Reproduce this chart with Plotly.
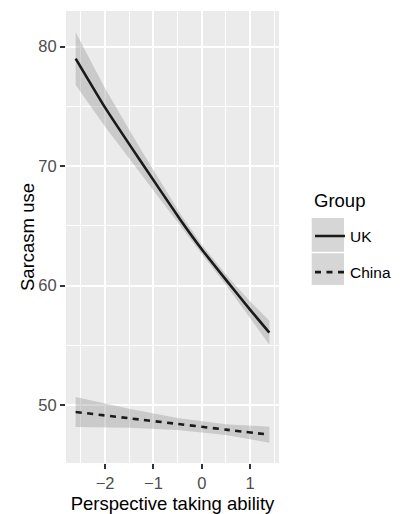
import plotly.graph_objects as go

# ---- data ----
uk_x = [-2.61, -2.0, -1.27, -0.44, 0.0, 0.54, 1.0, 1.40]
uk_y = [79.0, 74.9, 70.45, 65.5, 63.05, 60.3, 58.0, 56.07]
uk_hw = [2.2, 1.6, 1.0, 0.5, 0.4, 0.45, 0.7, 1.0]

cn_x = [-2.61, -1.5, -0.5, 0.5, 1.40]
cn_y = [49.44, 48.91, 48.44, 47.96, 47.54]
cn_hw = [1.25, 0.8, 0.5, 0.45, 0.67]

groups = ["UK", "China"]
x_ticks = [-2, -1, 0, 1]
x_tick_labels = ["\u22122", "\u22121", "0", "1"]
y_ticks = [50, 60, 70, 80]
x_minor = [-2.5, -1.5, -0.5, 0.5, 1.5]
y_minor = [55, 65, 75]

FONT = "Liberation Sans, Arial, Helvetica, sans-serif"
PANEL = "#EBEBEB"
RIBBON = "rgba(153,153,153,0.4)"
KEYBG = "#D6D6D6"

# page body has an 8px default margin; figure is sized to fit the window
W, H = 393, 506
ML, MT = 58, 3
MR = W - (279 - 8)
MB = H - (463 - 8)
PW = W - ML - MR
PH = H - MT - MB


def px_x(x):
    return (x - 8 - ML) / PW


def px_y(y):
    return (H - MB - (y - 8)) / PH


fig = go.Figure()


def ribbon(xs, ys, hws):
    up = [y + h for y, h in zip(ys, hws)]
    lo = [y - h for y, h in zip(ys, hws)]
    return xs + xs[::-1], up + lo[::-1]


series = [
    ("UK", uk_x, uk_y, uk_hw, "solid"),
    ("China", cn_x, cn_y, cn_hw, "6px,5.5px"),
]

for name, xs, ys, hws, dash in series:
    rx, ry = ribbon(xs, ys, hws)
    fig.add_trace(go.Scatter(x=rx, y=ry, fill="toself", fillcolor=RIBBON,
                             line=dict(width=0), mode="lines",
                             hoverinfo="skip", showlegend=False,
                             legendgroup=name))

for name, xs, ys, hws, dash in series:
    fig.add_trace(go.Scatter(x=xs, y=ys, mode="lines", name=name,
                             legendgroup=name,
                             line=dict(color="#1A1A1A", width=2.6, dash=dash,
                                       shape="spline", smoothing=0.5)))

# legend key backgrounds (paper coordinates)
for y0, y1 in [(251.7, 218), (285, 253.3)]:
    fig.add_shape(type="rect", xref="paper", yref="paper",
                  x0=px_x(311.7), x1=px_x(344), y0=px_y(y0), y1=px_y(y1),
                  fillcolor=KEYBG, line=dict(width=0), layer="below")

fig.add_annotation(text="Group", xref="paper", yref="paper",
                   x=px_x(311.5), y=px_y(200), xanchor="left",
                   yanchor="middle", showarrow=False,
                   font=dict(size=18.5, color="#000000"))

# y-axis title
fig.add_annotation(text="Sarcasm use", xref="paper", yref="paper",
                   x=px_x(27), y=px_y(237), xanchor="center",
                   yanchor="middle", textangle=-90, showarrow=False,
                   font=dict(size=18.5, color="#000000"))

fig.update_layout(
    width=W, height=H,
    margin=dict(l=ML, r=MR, t=MT, b=MB, autoexpand=False),
    paper_bgcolor="white",
    plot_bgcolor=PANEL,
    font=dict(family=FONT, size=16, color="#000000"),
    legend=dict(
        font=dict(size=15.5, color="#000000"),
        x=px_x(310), xref="paper", xanchor="left",
        y=px_y(254.35), yanchor="middle",
        tracegroupgap=13,
        bgcolor="rgba(0,0,0,0)",
        itemwidth=30,
    ),
    xaxis=dict(
        range=[-2.81, 1.60],
        tickvals=x_ticks, ticktext=x_tick_labels,
        ticks="outside", ticklen=5, tickwidth=2, tickcolor="#333333",
        tickfont=dict(size=16.5, color="#4D4D4D"),
        showgrid=True, gridcolor="white", gridwidth=2.2,
        minor=dict(tickvals=x_minor, showgrid=True, gridcolor="white",
                   gridwidth=1.2, ticks=""),
        zeroline=False, showline=False, automargin=False,
        title=dict(text="Perspective taking ability", standoff=6,
                   font=dict(size=18.5, color="#000000")),
    ),
    yaxis=dict(
        range=[45.17, 82.98],
        tickvals=y_ticks,
        ticks="outside", ticklen=5, tickwidth=2, tickcolor="#333333",
        tickfont=dict(size=16.5, color="#4D4D4D"),
        showgrid=True, gridcolor="white", gridwidth=2.2,
        minor=dict(tickvals=y_minor, showgrid=True, gridcolor="white",
                   gridwidth=1.2, ticks=""),
        zeroline=False, showline=False, automargin=False,
    ),
)

fig.write_html("out.html")
